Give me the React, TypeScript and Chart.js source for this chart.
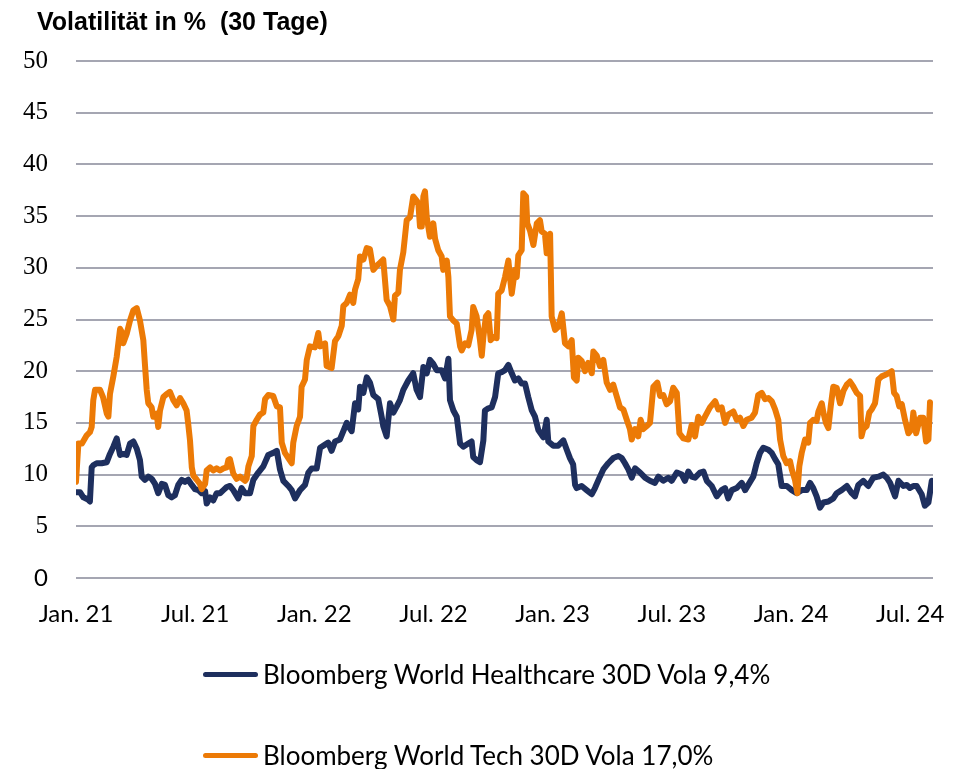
import React, { useEffect, useRef } from "react";
import { Chart, registerables } from "chart.js";

Chart.register(...registerables);

const titleText = "Volatilität in %  (30 Tage)";

// x axis: months since 1 Jan 2021
const xTickMonths = [0, 6, 12, 18, 24, 30, 36, 42];
const xTickLabels = ["Jan. 21", "Jul. 21", "Jan. 22", "Jul. 22", "Jan. 23", "Jul. 23", "Jan. 24", "Jul. 24"];
const xMin = 0;
const xMax = 43.15;

const yMin = 0;
const yMax = 50;
const yStep = 5;

const healthcareLabel = "Bloomberg World Healthcare 30D Vola 9,4%";
const techLabel = "Bloomberg World Tech 30D Vola 17,0%";

const healthcareMonths = [
  0.0, 0.2, 0.37, 0.6, 0.7, 0.79, 0.87, 1.04, 1.29, 1.55, 1.71, 1.88, 2.05, 2.13, 2.22, 2.38, 2.55, 2.72, 2.89, 3.06,
  3.22, 3.31, 3.47, 3.64, 3.81, 3.98, 4.14, 4.32, 4.48, 4.65, 4.82, 4.98, 5.15, 5.32, 5.49, 5.65, 5.83, 5.99, 6.16, 6.33,
  6.5, 6.58, 6.75, 6.91, 7.08, 7.25, 7.42, 7.59, 7.75, 7.92, 8.17, 8.34, 8.51, 8.76, 8.93, 9.18, 9.43, 9.68, 9.93, 10.11,
  10.27, 10.44, 10.69, 10.86, 11.03, 11.28, 11.53, 11.7, 11.87, 12.12, 12.29, 12.54, 12.7, 12.87, 13.04, 13.29, 13.46, 13.63, 13.71, 13.88,
  14.05, 14.21, 14.3, 14.47, 14.64, 14.8, 14.97, 15.22, 15.39, 15.47, 15.64, 15.81, 15.98, 16.15, 16.31, 16.48, 16.73, 16.98, 17.15, 17.32,
  17.49, 17.66, 17.82, 17.99, 18.16, 18.41, 18.58, 18.75, 18.83, 19.0, 19.17, 19.34, 19.5, 19.75, 19.92, 20.0, 20.17, 20.34, 20.51, 20.59,
  20.76, 20.93, 21.1, 21.26, 21.43, 21.6, 21.77, 21.94, 22.1, 22.27, 22.44, 22.61, 22.77, 22.95, 23.11, 23.28, 23.53, 23.7, 23.78, 24.03,
  24.28, 24.54, 24.71, 24.87, 25.03, 25.13, 25.21, 25.46, 25.71, 25.97, 26.13, 26.38, 26.55, 26.8, 27.05, 27.31, 27.48, 27.64, 27.81, 27.98,
  28.15, 28.4, 28.65, 28.9, 29.15, 29.32, 29.57, 29.82, 29.99, 30.25, 30.5, 30.66, 30.83, 31.0, 31.17, 31.42, 31.59, 31.76, 32.01, 32.26,
  32.51, 32.68, 32.84, 33.02, 33.27, 33.52, 33.69, 33.94, 34.1, 34.27, 34.44, 34.61, 34.86, 35.03, 35.2, 35.36, 35.53, 35.79, 36.04, 36.29,
  36.54, 36.79, 36.96, 37.12, 37.29, 37.46, 37.63, 37.88, 38.13, 38.3, 38.55, 38.81, 39.06, 39.22, 39.39, 39.64, 39.89, 40.14, 40.4, 40.65,
  40.82, 40.99, 41.24, 41.41, 41.66, 41.83, 41.99, 42.16, 42.33, 42.58, 42.74, 42.92, 43.09,
];
const healthcareVola = [
  8.3, 8.3, 7.8, 7.6, 7.4, 10.7, 10.9, 11.1, 11.1, 11.2, 12.0, 12.7, 13.5, 12.7, 11.9, 12.0, 11.9, 13.0, 13.2, 12.5,
  11.4, 9.8, 9.5, 9.8, 9.6, 9.1, 8.2, 9.1, 9.0, 8.0, 7.8, 8.0, 9.0, 9.5, 9.3, 9.5, 9.0, 8.6, 8.5, 8.2,
  8.4, 7.2, 7.8, 7.5, 8.2, 8.2, 8.5, 8.8, 8.9, 8.5, 7.7, 8.7, 8.2, 8.2, 9.5, 10.2, 10.8, 11.9, 12.1, 12.3,
  10.5, 9.4, 8.9, 8.5, 7.7, 8.5, 9.0, 10.2, 10.6, 10.6, 12.6, 12.9, 13.1, 12.3, 13.2, 13.4, 14.2, 15.0, 14.7, 14.2,
  16.9, 16.3, 18.5, 17.9, 19.4, 18.9, 17.7, 17.3, 15.6, 14.7, 13.7, 16.9, 16.0, 16.6, 17.2, 18.2, 19.1, 19.8, 18.2, 17.5,
  20.4, 19.8, 21.1, 20.7, 20.1, 20.1, 19.3, 21.2, 17.2, 16.2, 15.6, 13.0, 12.7, 13.0, 13.2, 11.7, 11.4, 11.2, 13.3, 16.2,
  16.4, 16.5, 17.5, 19.8, 19.9, 20.1, 20.6, 19.8, 19.1, 19.3, 18.8, 18.8, 17.5, 16.2, 15.6, 14.3, 13.6, 15.3, 13.2, 12.8,
  12.8, 13.3, 12.4, 11.6, 11.0, 9.0, 8.7, 8.9, 8.5, 8.1, 8.7, 9.8, 10.5, 11.1, 11.6, 11.8, 11.6, 11.1, 10.5, 9.7,
  10.6, 10.2, 9.7, 9.4, 9.2, 9.8, 9.4, 9.7, 9.4, 10.2, 10.0, 9.4, 10.3, 9.8, 9.7, 10.2, 10.3, 9.4, 8.9, 7.9,
  8.5, 8.7, 7.7, 8.5, 8.7, 9.2, 8.5, 9.3, 9.8, 11.1, 12.1, 12.6, 12.4, 12.1, 11.5, 11.0, 8.9, 8.9, 8.5, 8.2,
  8.5, 8.5, 9.2, 8.7, 7.9, 6.8, 7.3, 7.4, 7.7, 8.2, 8.5, 8.9, 8.2, 7.9, 9.0, 9.4, 8.9, 9.7, 9.8, 10.0,
  9.7, 9.2, 7.9, 9.4, 8.9, 9.0, 8.7, 8.9, 8.9, 8.1, 7.0, 7.3, 9.4,
];

const techMonths = [
  0.0, 0.12, 0.3, 0.54, 0.7, 0.79, 0.87, 0.96, 1.21, 1.36, 1.55, 1.63, 1.71, 1.88, 2.05, 2.22, 2.3, 2.38, 2.55, 2.72,
  2.89, 3.06, 3.22, 3.39, 3.47, 3.56, 3.64, 3.81, 3.89, 4.06, 4.14, 4.23, 4.4, 4.57, 4.73, 4.9, 5.07, 5.24, 5.4, 5.57,
  5.65, 5.74, 5.83, 5.91, 6.08, 6.24, 6.33, 6.5, 6.58, 6.75, 6.91, 7.08, 7.25, 7.42, 7.59, 7.67, 7.75, 7.92, 8.09, 8.26,
  8.51, 8.59, 8.68, 8.85, 8.93, 9.1, 9.26, 9.43, 9.52, 9.68, 9.93, 10.11, 10.27, 10.36, 10.52, 10.69, 10.86, 10.94, 11.11, 11.28,
  11.36, 11.53, 11.62, 11.78, 12.03, 12.2, 12.29, 12.54, 12.62, 12.87, 13.04, 13.21, 13.38, 13.46, 13.63, 13.8, 13.96, 14.05, 14.21, 14.3,
  14.47, 14.64, 14.8, 14.97, 15.14, 15.31, 15.47, 15.64, 15.81, 15.98, 16.06, 16.23, 16.31, 16.48, 16.65, 16.82, 16.98, 17.15, 17.24, 17.32,
  17.41, 17.49, 17.57, 17.66, 17.82, 17.99, 18.08, 18.24, 18.41, 18.49, 18.67, 18.75, 18.83, 19.0, 19.17, 19.34, 19.42, 19.59, 19.75, 19.92,
  20.0, 20.17, 20.34, 20.43, 20.51, 20.64, 20.76, 20.88, 21.01, 21.18, 21.26, 21.43, 21.6, 21.77, 21.85, 21.94, 22.1, 22.19, 22.27, 22.44,
  22.52, 22.66, 22.72, 22.86, 23.03, 23.2, 23.36, 23.45, 23.61, 23.7, 23.87, 23.95, 24.12, 24.28, 24.46, 24.62, 24.79, 24.96, 25.07, 25.21,
  25.29, 25.46, 25.63, 25.79, 25.97, 26.05, 26.22, 26.38, 26.55, 26.72, 26.89, 27.05, 27.22, 27.39, 27.56, 27.73, 27.89, 27.98, 28.15, 28.31,
  28.43, 28.56, 28.74, 28.9, 29.07, 29.27, 29.41, 29.57, 29.74, 29.91, 30.07, 30.25, 30.38, 30.58, 30.83, 31.0, 31.17, 31.33, 31.51, 31.67,
  31.92, 32.18, 32.34, 32.51, 32.68, 32.84, 33.1, 33.27, 33.43, 33.6, 33.77, 34.02, 34.19, 34.35, 34.53, 34.69, 34.86, 35.03, 35.2, 35.36,
  35.45, 35.61, 35.78, 35.95, 36.04, 36.2, 36.32, 36.42, 36.54, 36.71, 36.87, 36.96, 37.12, 37.29, 37.38, 37.55, 37.63, 37.76, 37.88, 38.0,
  38.13, 38.3, 38.47, 38.64, 38.81, 38.97, 39.14, 39.31, 39.48, 39.55, 39.64, 39.81, 39.94, 40.06, 40.23, 40.4, 40.57, 40.82, 41.07, 41.19,
  41.32, 41.45, 41.58, 41.74, 41.91, 42.08, 42.16, 42.3, 42.5, 42.66, 42.8, 42.92, 43.0,
];
const techVola = [
  9.3, 13.0, 13.0, 13.8, 14.1, 14.6, 17.2, 18.2, 18.2, 17.5, 15.9, 15.6, 17.8, 19.5, 21.4, 24.1, 23.8, 22.7, 23.6, 24.9,
  25.9, 26.1, 24.9, 23.0, 20.7, 18.2, 16.9, 16.5, 15.6, 15.9, 14.6, 16.2, 17.5, 17.8, 18.0, 17.2, 16.7, 17.4, 16.9, 16.2,
  14.9, 13.3, 10.7, 9.9, 9.5, 9.1, 8.6, 9.1, 10.4, 10.7, 10.4, 10.6, 10.4, 10.6, 10.7, 11.4, 11.5, 10.1, 9.6, 9.8,
  9.4, 9.6, 10.8, 11.8, 14.7, 15.3, 15.8, 16.0, 17.3, 17.7, 17.6, 16.6, 16.5, 13.1, 12.1, 11.6, 11.1, 13.1, 14.7, 15.6,
  18.5, 19.2, 21.1, 22.4, 22.3, 23.7, 22.4, 22.7, 20.5, 20.3, 22.9, 23.4, 24.4, 26.3, 26.6, 27.4, 26.6, 27.9, 28.9, 31.1,
  30.8, 31.9, 31.8, 29.8, 30.2, 30.5, 30.8, 26.9, 26.3, 25.0, 27.3, 27.6, 29.8, 31.5, 34.6, 34.9, 36.9, 36.5, 36.2, 34.0,
  34.0, 36.9, 37.4, 34.9, 33.0, 34.3, 32.8, 31.7, 31.1, 29.8, 30.7, 29.1, 25.3, 24.9, 24.6, 22.4, 22.0, 22.7, 22.5, 24.0,
  26.2, 25.3, 23.0, 21.5, 23.3, 25.3, 25.6, 23.0, 23.3, 23.2, 27.5, 27.8, 29.1, 30.7, 29.1, 27.5, 29.8, 29.1, 31.2, 31.7,
  37.2, 36.9, 34.3, 33.6, 32.2, 34.3, 34.6, 33.5, 33.3, 31.4, 33.3, 25.3, 24.0, 24.3, 25.6, 22.7, 22.4, 23.0, 19.4, 19.1,
  21.3, 21.0, 20.0, 20.8, 19.8, 21.9, 21.5, 20.5, 21.1, 18.9, 18.2, 18.7, 17.6, 16.5, 16.3, 15.3, 14.4, 13.4, 14.4, 13.7,
  15.3, 14.4, 14.7, 15.0, 18.5, 18.9, 17.6, 17.7, 16.8, 17.1, 18.4, 17.9, 14.0, 13.5, 13.4, 14.8, 13.7, 15.6, 15.0, 15.6,
  16.5, 17.1, 16.3, 16.5, 15.0, 15.8, 16.1, 15.3, 15.5, 14.7, 15.3, 15.5, 16.0, 17.7, 17.9, 17.3, 17.4, 17.1, 16.3, 15.3,
  13.4, 11.8, 11.1, 11.3, 10.5, 9.5, 8.2, 10.8, 12.1, 13.4, 13.1, 15.0, 15.3, 15.2, 16.1, 16.9, 16.0, 15.0, 14.5, 16.6,
  18.5, 18.4, 16.9, 18.1, 18.7, 19.0, 18.5, 17.9, 17.6, 13.7, 14.4, 14.7, 16.0, 16.3, 16.9, 19.2, 19.5, 19.7, 20.0, 17.9,
  17.6, 16.6, 16.8, 15.3, 14.0, 14.4, 16.0, 14.0, 15.5, 15.5, 13.2, 13.4, 17.0,
];

const NAVY = "#1E2F5E";
const ORANGE = "#EC7A06";
const GRID = "#A5A6B2";

const SANS = "Lato, 'Liberation Sans', sans-serif";
const SERIF = "'Liberation Serif', serif";

const W = 963;
const H = 769;

export default function App() {
  const canvasRef = useRef<HTMLCanvasElement | null>(null);

  useEffect(() => {
    document.body.style.margin = "0";
    const canvas = canvasRef.current;
    if (!canvas) return;
    const toPts = (xs: number[], ys: number[]) => xs.map((x, i) => ({ x, y: ys[i] }));
    const lineStyle = {
      borderWidth: 6,
      pointRadius: 0,
      tension: 0,
      borderJoinStyle: "round" as const,
      borderCapStyle: "round" as const,
    };
    const chart = new Chart(canvas, {
      type: "line",
      data: {
        datasets: [
          {
            label: techLabel,
            data: toPts(techMonths, techVola),
            borderColor: ORANGE,
            backgroundColor: ORANGE,
            order: 0,
            ...lineStyle,
          },
          {
            label: healthcareLabel,
            data: toPts(healthcareMonths, healthcareVola),
            borderColor: NAVY,
            backgroundColor: NAVY,
            order: 1,
            ...lineStyle,
          },
        ],
      },
      options: {
        responsive: false,
        animation: false,
        devicePixelRatio: 1,
        layout: { padding: { left: 0, right: 30, top: 61, bottom: 131 } },
        plugins: {
          legend: { display: false },
          title: { display: false },
          tooltip: { enabled: false },
        },
        scales: {
          x: {
            type: "linear",
            min: xMin,
            max: xMax,
            grid: { display: false },
            border: { display: false },
            afterBuildTicks: (axis: any) => {
              axis.ticks = xTickMonths.map((v) => ({ value: v }));
            },
            afterFit: (axis: any) => {
              axis.height = 60;
            },
            ticks: {
              autoSkip: false,
              maxRotation: 0,
              padding: 14,
              color: "#000",
              font: { family: SANS, size: 24 },
              callback: (_v: any, i: number) => xTickLabels[i],
            },
          },
          y: {
            type: "linear",
            min: yMin,
            max: yMax,
            grid: { color: GRID, lineWidth: 2, drawTicks: false },
            border: { display: false },
            afterFit: (axis: any) => {
              axis.width = 76;
            },
            ticks: {
              stepSize: yStep,
              padding: 28,
              color: "#000",
              font: (ctx: any) =>
                ctx.tick && ctx.tick.value === 0
                  ? { family: SANS, size: 24 }
                  : { family: SERIF, size: 25 },
            },
          },
        },
      },
    });
    return () => chart.destroy();
  }, []);

  const legendItem = (color: string, label: string, center: number) => (
    <div style={{ position: "absolute", left: 203, top: center - 20, height: 40, display: "flex", alignItems: "center" }}>
      <div style={{ width: 55, height: 5, borderRadius: 3, background: color }} />
      <span
        style={{
          marginLeft: 5,
          fontFamily: SANS,
          fontSize: 26,
          color: "#000",
          whiteSpace: "nowrap",
        }}
      >
        {label}
      </span>
    </div>
  );

  return (
    <div style={{ position: "absolute", left: 0, top: 0, width: W, height: H, background: "#fff" }}>
      <canvas ref={canvasRef} width={W} height={H} style={{ position: "absolute", left: 0, top: 0 }} />
      <div
        style={{
          position: "absolute",
          left: 37,
          top: 7,
          fontFamily: "'Liberation Sans', Arial, sans-serif",
          fontWeight: "bold",
          fontSize: 25,
          color: "#000",
          whiteSpace: "pre",
        }}
      >
        {titleText}
      </div>
      {legendItem(NAVY, healthcareLabel, 674)}
      {legendItem(ORANGE, techLabel, 755)}
    </div>
  );
}
